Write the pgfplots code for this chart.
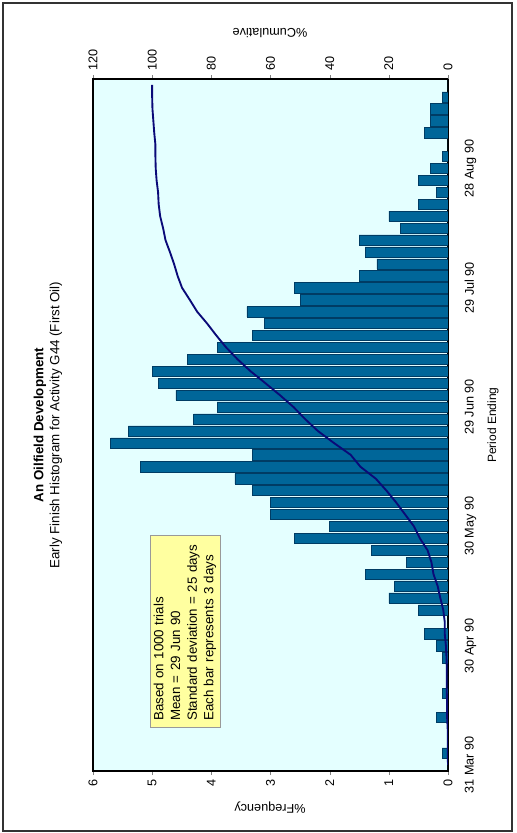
\documentclass[border=0pt]{standalone}
\usepackage{pgfplots}
\usepackage{pgfplotstable}
\pgfplotsset{compat=1.18}
\usepackage{fontspec}
\setmainfont{Liberation Sans}
\setsansfont{Liberation Sans}
\definecolor{barfill}{RGB}{0,102,153}
\definecolor{baredge}{RGB}{0,60,100}
\definecolor{bgcyan}{RGB}{228,255,255}
\definecolor{cumline}{RGB}{10,10,120}
\definecolor{boxyellow}{RGB}{255,255,160}

\pgfplotstableread{
i f c
0 0 0
1 0.1 0.1
2 0 0.1
3 0 0.1
4 0.2 0.3
5 0 0.3
6 0.1 0.4
7 0 0.4
8 0 0.4
9 0.1 0.5
10 0.2 0.7
11 0.4 1.1
12 0 1.1
13 0.5 1.6
14 1.0 2.6
15 0.9 3.5
16 1.4 4.9
17 0.7 5.6
18 1.3 6.9
19 2.6 9.5
20 2.0 11.5
21 3.0 14.5
22 3.0 17.5
23 3.3 20.8
24 3.6 24.4
25 5.2 29.6
26 3.3 32.9
27 5.7 38.6
28 5.4 44.0
29 4.3 48.3
30 3.9 52.2
31 4.6 56.8
32 4.9 61.7
33 5.0 66.7
34 4.4 71.1
35 3.9 75.0
36 3.3 78.3
37 3.1 81.4
38 3.4 84.8
39 2.5 87.3
40 2.6 89.9
41 1.5 91.4
42 1.2 92.6
43 1.4 94.0
44 1.5 95.5
45 0.8 96.3
46 1.0 97.3
47 0.5 97.8
48 0.2 98.0
49 0.5 98.5
50 0.3 98.8
51 0.1 98.9
52 0 98.9
53 0.4 99.3
54 0.3 99.6
55 0.3 99.9
56 0.1 100.0
57 0 100.0
}\hist

\begin{document}
\begin{tikzpicture}
\pgfplotsset{
  common/.style={
    scale only axis, width=266.25pt, height=519pt,
    ymin=-0.5, ymax=57.5,
    x dir=reverse,
    tick align=outside, major tick length=3pt,
    /pgf/number format/assume math mode=true,
    tick label style={font=\fontsize{9.5}{11}\selectfont},
    axis line style={line width=0.8pt, black},
  }
}
\begin{axis}[common, name=main,
  xbar, bar width=0.86, bar shift=0pt,
  xmin=0, xmax=6, xtick={0,1,...,6}, xtick pos=left,
  xticklabel style={rotate=90, anchor=east},
  ytick={0,10,20,30,40,50},
  yticklabels={\mbox{31 Mar 90},\mbox{30 Apr 90},\mbox{30 May 90},\mbox{29 Jun 90},\mbox{29 Jul 90},\mbox{28 Aug 90}},
  yticklabel pos=right, ytick style={draw=none},
  yticklabel style={rotate=90, anchor=north},
  yticklabel shift=6pt,
  axis background/.style={fill=bgcyan},
]
\addplot[fill=barfill, draw=baredge, line width=0.4pt] table[x=f, y=i]{\hist};
\end{axis}
\begin{axis}[common, at={(main.south west)}, anchor=south west,
  xmin=0, xmax=120, xtick={0,20,...,120},
  axis x line*=top, axis y line=none,
  xticklabel style={rotate=90, anchor=west},
]
\addplot[cumline, line width=1.4pt, no marks] table[x=c, y=i]{\hist};
\end{axis}
\begin{scope}[shift={(main.south west)}, x=0.75pt, y=-0.75pt, shift={(-93,-771)}]
  \useasboundingbox (0,0) rectangle (517,833);
  \draw[line width=0.8pt, black!80] (3,3) rectangle (512,831);
  \node[rotate=180, font=\fontsize{9.5}{11}\selectfont] at (270,33) {\%Cumulative};
  \node[rotate=180, font=\fontsize{9.5}{11}\selectfont] at (270,808) {\%Frequency};
  \node[rotate=90, font=\fontsize{9}{11}\selectfont] at (493,425) {Period Ending};
  \node[rotate=90, font=\fontsize{10}{12}\selectfont\bfseries] at (40,425) {An Oilfield Development};
  \node[rotate=90, font=\fontsize{10}{12}\selectfont] at (56,425) {Early Finish Histogram for Activity G44 (First Oil)};
  \node[rotate=90, fill=boxyellow, draw=black!40, line width=0.4pt,
        text width=134pt, inner xsep=5pt, inner ysep=3pt, align=left,
        font=\fontsize{10}{12.5}\selectfont] at (185,631.5)
    {Based on 1000 trials\\Mean = 29 Jun 90\\Standard deviation = 25 days\\Each bar represents 3 days};
\end{scope}
\end{tikzpicture}
\end{document}
